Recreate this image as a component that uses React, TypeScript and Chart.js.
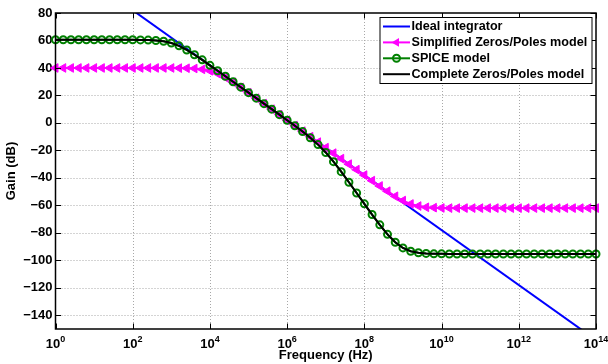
import React, { useEffect, useRef } from "react";
import { Chart, registerables } from "chart.js";

Chart.register(...registerables);

// log10 of frequency (Hz) at each sample
const logFreq = [
  0, 0.2, 0.4, 0.6, 0.8, 1, 1.2, 1.4, 1.6, 1.8,
  2, 2.2, 2.4, 2.6, 2.8, 3, 3.2, 3.4, 3.6, 3.8,
  4, 4.2, 4.4, 4.6, 4.8, 5, 5.2, 5.4, 5.6, 5.8,
  6, 6.2, 6.4, 6.6, 6.8, 7, 7.2, 7.4, 7.6, 7.8,
  8, 8.2, 8.4, 8.6, 8.8, 9, 9.2, 9.4, 9.6, 9.8,
  10, 10.2, 10.4, 10.6, 10.8, 11, 11.2, 11.4, 11.6, 11.8,
  12, 12.2, 12.4, 12.6, 12.8, 13, 13.2, 13.4, 13.6, 13.8,
  14,
];

const idealLogFreq = [0, 14];
const idealGain = [122, -158];

const simplifiedGain = [
  40, 40, 40, 40, 40, 40, 40, 40, 40, 40,
  40, 40, 40, 40, 40, 40, 39.9, 39.8, 39.6, 39.0,
  37.9, 35.9, 33.0, 29.6, 25.8, 21.9, 18.0, 14.0, 10.0, 6.0,
  2.0, -2.0, -6.0, -10.0, -14.0, -18.0, -22.0, -26.0, -30.0, -34.0,
  -38.0, -42.0, -45.9, -49.7, -53.4, -56.5, -59.0, -60.5, -61.4, -61.7,
  -61.9, -62, -62, -62, -62, -62, -62, -62, -62, -62,
  -62, -62, -62, -62, -62, -62, -62, -62, -62, -62,
  -62,
];

const spiceGain = [
  60.5, 60.5, 60.5, 60.5, 60.5, 60.5, 60.5, 60.5, 60.5, 60.5,
  60.5, 60.4, 60.3, 60.0, 59.4, 58.2, 56.1, 53.1, 49.6, 45.9,
  41.9, 38.0, 34.0, 30.0, 26.0, 22.0, 18.0, 14.0, 10.0, 6.0,
  1.9, -2.1, -6.3, -10.8, -15.8, -21.5, -28.2, -35.5, -43.2, -51.0,
  -58.9, -66.7, -74.2, -81.1, -86.9, -91.0, -93.4, -94.5, -95.0, -95.3,
  -95.3, -95.4, -95.4, -95.4, -95.4, -95.4, -95.4, -95.4, -95.4, -95.4,
  -95.4, -95.4, -95.4, -95.4, -95.4, -95.4, -95.4, -95.4, -95.4, -95.4,
  -95.4,
];

const completeGain = [
  60.5, 60.5, 60.5, 60.5, 60.5, 60.5, 60.5, 60.5, 60.5, 60.5,
  60.5, 60.4, 60.3, 60.0, 59.4, 58.2, 56.1, 53.1, 49.6, 45.9,
  41.9, 38.0, 34.0, 30.0, 26.0, 22.0, 18.0, 14.0, 10.0, 6.0,
  1.9, -2.1, -6.3, -10.8, -15.8, -21.5, -28.2, -35.5, -43.2, -51.0,
  -58.9, -66.7, -74.2, -81.1, -86.9, -91.0, -93.4, -94.5, -95.0, -95.3,
  -95.3, -95.4, -95.4, -95.4, -95.4, -95.4, -95.4, -95.4, -95.4, -95.4,
  -95.4, -95.4, -95.4, -95.4, -95.4, -95.4, -95.4, -95.4, -95.4, -95.4,
  -95.4,
];

const xTickExp = [0, 2, 4, 6, 8, 10, 12, 14];
const yTicks = [-140, -120, -100, -80, -60, -40, -20, 0, 20, 40, 60, 80];

const seriesLabels = [
  "Ideal integrator",
  "Simplified Zeros/Poles model",
  "SPICE model",
  "Complete Zeros/Poles model",
];
const xTitle = "Frequency (Hz)";
const yTitle = "Gain (dB)";

const FONT = '"Liberation Sans", Arial, Helvetica, sans-serif';
const BLUE = "#0000ff";
const MAGENTA = "#ff00ff";
const GREEN = "#008000";
const BLACK = "#000000";

const toPoints = (xs: number[], ys: number[]) =>
  xs.map((e, i) => ({ x: Math.pow(10, e), y: ys[i] }));

const drawTriangleLeft = (ctx: CanvasRenderingContext2D, x: number, y: number, r: number) => {
  ctx.beginPath();
  ctx.moveTo(x - r, y);
  ctx.lineTo(x + r * 0.5, y - r * 0.866);
  ctx.lineTo(x + r * 0.5, y + r * 0.866);
  ctx.closePath();
  ctx.fill();
};

const matlabAxes = {
  id: "matlabAxes",
  beforeDatasetsDraw(chart: any) {
    const { ctx, chartArea: a, scales } = chart;
    ctx.save();
    ctx.strokeStyle = "#a8a8a8";
    ctx.lineWidth = 1;
    ctx.setLineDash([1, 2]);
    for (const e of xTickExp) {
      const px = Math.round(scales.x.getPixelForValue(Math.pow(10, e))) + 0.5;
      if (px <= a.left + 2 || px >= a.right - 2) continue;
      ctx.beginPath();
      ctx.moveTo(px, a.top);
      ctx.lineTo(px, a.bottom);
      ctx.stroke();
    }
    for (const v of yTicks) {
      const py = Math.round(scales.y.getPixelForValue(v)) + 0.5;
      if (py <= a.top + 2 || py >= a.bottom - 2) continue;
      ctx.beginPath();
      ctx.moveTo(a.left, py);
      ctx.lineTo(a.right, py);
      ctx.stroke();
    }
    ctx.restore();
  },
  afterDatasetsDraw(chart: any) {
    const { ctx, chartArea: a, scales } = chart;
    ctx.save();
    ctx.setLineDash([]);
    // axes box
    ctx.strokeStyle = "#000";
    ctx.lineWidth = 1.5;
    ctx.strokeRect(a.left, a.top, a.right - a.left, a.bottom - a.top);
    // inward ticks
    const tl = 5.5;
    ctx.lineWidth = 1;
    for (const e of xTickExp) {
      const px = Math.round(scales.x.getPixelForValue(Math.pow(10, e))) + 0.5;
      ctx.beginPath();
      ctx.moveTo(px, a.bottom);
      ctx.lineTo(px, a.bottom - tl);
      ctx.moveTo(px, a.top);
      ctx.lineTo(px, a.top + tl);
      ctx.stroke();
    }
    for (const v of yTicks) {
      const py = Math.round(scales.y.getPixelForValue(v)) + 0.5;
      ctx.beginPath();
      ctx.moveTo(a.left, py);
      ctx.lineTo(a.left + tl, py);
      ctx.moveTo(a.right, py);
      ctx.lineTo(a.right - tl, py);
      ctx.stroke();
    }
    // x tick labels 10^n
    ctx.fillStyle = "#000";
    ctx.textBaseline = "alphabetic";
    ctx.textAlign = "left";
    for (const e of xTickExp) {
      const px = scales.x.getPixelForValue(Math.pow(10, e));
      ctx.font = `bold 13px ${FONT}`;
      const wb = ctx.measureText("10").width;
      ctx.font = `bold 9px ${FONT}`;
      const exp = String(e);
      const we = ctx.measureText(exp).width;
      const start = px - (wb + we) / 2;
      ctx.font = `bold 13px ${FONT}`;
      ctx.fillText("10", start, a.bottom + 19);
      ctx.font = `bold 9px ${FONT}`;
      ctx.fillText(exp, start + wb, a.bottom + 12.5);
    }
    // axis titles
    ctx.font = `bold 13px ${FONT}`;
    ctx.textAlign = "center";
    ctx.fillText(xTitle, (a.left + a.right) / 2, 359);
    ctx.save();
    ctx.translate(11, (a.top + a.bottom) / 2);
    ctx.rotate(-Math.PI / 2);
    ctx.textBaseline = "middle";
    ctx.fillText(yTitle, 0, 0);
    ctx.restore();

    // legend
    const lx = 380, ly = 17.5, lw = 212, lh = 66;
    ctx.fillStyle = "#fff";
    ctx.fillRect(lx, ly, lw, lh);
    ctx.strokeStyle = "#000";
    ctx.lineWidth = 1;
    ctx.strokeRect(lx, ly, lw, lh);
    const ds = chart.data.datasets;
    const colors = [BLUE, MAGENTA, GREEN, BLACK];
    for (let i = 0; i < 4; i++) {
      const y = 26.5 + i * 15.9;
      ctx.strokeStyle = colors[i];
      ctx.lineWidth = 2;
      ctx.beginPath();
      ctx.moveTo(383, y);
      ctx.lineTo(410, y);
      ctx.stroke();
      if (i === 1) {
        ctx.fillStyle = MAGENTA;
        drawTriangleLeft(ctx, 396.5, y, 5);
      } else if (i === 2) {
        ctx.strokeStyle = GREEN;
        ctx.lineWidth = 2;
        ctx.beginPath();
        ctx.arc(396.5, y, 3.5, 0, Math.PI * 2);
        ctx.stroke();
      }
      ctx.fillStyle = "#000";
      ctx.font = `bold 12.6px ${FONT}`;
      ctx.textAlign = "left";
      ctx.textBaseline = "middle";
      ctx.fillText(ds[i].label, 411.5, y + 0.5);
    }
    ctx.restore();
  },
};

export default function App() {
  const ref = useRef<HTMLCanvasElement | null>(null);

  useEffect(() => {
    document.body.style.margin = "0";
    const canvas = ref.current;
    if (!canvas) return;
    const chart = new Chart(canvas, {
      type: "line",
      data: {
        datasets: [
          {
            label: seriesLabels[0],
            data: toPoints(idealLogFreq, idealGain),
            borderColor: BLUE,
            borderWidth: 2,
            pointRadius: 0,
            order: 3,
          },
          {
            label: seriesLabels[1],
            data: toPoints(logFreq, simplifiedGain),
            borderColor: MAGENTA,
            backgroundColor: MAGENTA,
            borderWidth: 2,
            pointStyle: "triangle",
            pointRotation: -90,
            pointRadius: 5,
            pointBackgroundColor: MAGENTA,
            pointBorderColor: MAGENTA,
            pointBorderWidth: 1,
            clip: false,
            order: 2,
          },
          {
            label: seriesLabels[2],
            data: toPoints(logFreq, spiceGain),
            borderColor: GREEN,
            borderWidth: 2,
            pointStyle: "circle",
            pointRadius: 3.5,
            pointBorderWidth: 2,
            pointBorderColor: GREEN,
            pointBackgroundColor: "rgba(0,0,0,0)",
            clip: false,
            order: 1,
          },
          {
            label: seriesLabels[3],
            data: toPoints(logFreq, completeGain),
            borderColor: BLACK,
            borderWidth: 2,
            pointRadius: 0,
            order: 0,
          },
        ] as any,
      },
      options: {
        responsive: false,
        devicePixelRatio: 1,
        animation: false,
        events: [],
        layout: { padding: { left: 0, right: 12, top: 13, bottom: 0 } },
        elements: { line: { tension: 0 } },
        scales: {
          x: {
            type: "logarithmic",
            min: 1,
            max: 1e14,
            afterBuildTicks: (s: any) => {
              s.ticks = xTickExp.map((e) => ({ value: Math.pow(10, e) }));
            },
            afterFit: (s: any) => {
              s.height = 35;
            },
            ticks: { display: false },
            grid: { display: false, drawTicks: false },
            border: { display: false },
          },
          y: {
            type: "linear",
            min: -150,
            max: 80,
            afterBuildTicks: (s: any) => {
              s.ticks = yTicks.map((v) => ({ value: v }));
            },
            afterFit: (s: any) => {
              s.width = 55.5;
            },
            ticks: {
              autoSkip: false,
              padding: 3,
              color: "#000",
              font: { family: FONT, size: 13, weight: "bold" },
              callback: (v: any) => (v < 0 ? "\u2212" + Math.abs(v) : String(v)),
            },
            grid: { display: false, drawTicks: false },
            border: { display: false },
          },
        },
        plugins: {
          legend: { display: false },
          tooltip: { enabled: false },
        },
      } as any,
      plugins: [matlabAxes],
    });
    return () => chart.destroy();
  }, []);

  return (
    <div style={{ width: 608, height: 364 }}>
      <canvas ref={ref} width={608} height={364} style={{ display: "block" }} />
    </div>
  );
}
